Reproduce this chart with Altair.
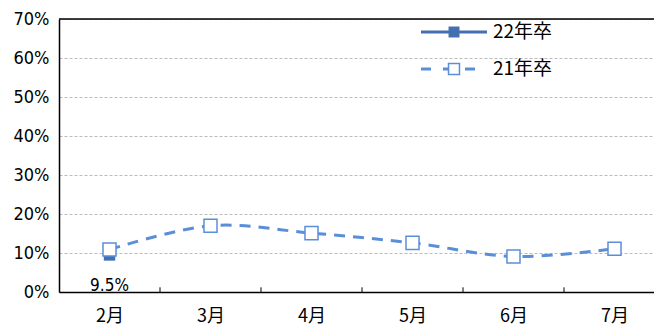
import altair as alt
import pandas as pd

months = ["2月", "3月", "4月", "5月", "6月", "7月"]
s21 = [10.9, 17.0, 15.1, 12.6, 9.1, 11.1]
s22 = [9.5]
name21 = "21年卒"
name22 = "22年卒"
y_ticks = [0, 10, 20, 30, 40, 50, 60, 70]

FONT = "Noto Sans CJK JP"
NUMFONT = "Liberation Sans Narrow, DejaVu Sans Condensed, Noto Sans CJK JP"
C21 = "#5B8ED8"
C22 = "#4470B0"

W = 595          # visible plot width (reference plot runs past the window edge)
BAND = 101       # px per month
x_max = -0.5 + W / BAND

df21 = pd.DataFrame({"i": list(range(len(s21))), "m": months[:len(s21)], "v": s21})
df22 = pd.DataFrame({"i": list(range(len(s22))), "m": months[:len(s22)], "v": s22,
                     "lab": [f"{v}%" for v in s22]})
bounds = pd.DataFrame({"i": [k + 0.5 for k in range(len(months) - 1)], "v": 0, "v2": 1.2})
top = pd.DataFrame({"i": [-0.5], "i2": [x_max], "v": [70]})

label_expr = "[" + ",".join(f"'{m}'" for m in months) + "][datum.value]"

xs = alt.Scale(domain=[-0.5, x_max], nice=False, zero=False)
ys = alt.Scale(domain=[0, 70], nice=False)

x_axis = alt.Axis(values=list(range(len(months))), labelExpr=label_expr, title=None,
                  tickSize=0, grid=False, labelPadding=15, labelFont=FONT, labelFontSize=18,
                  labelColor="black", domainColor="black", domainWidth=1.5)
y_axis = alt.Axis(values=y_ticks, labelExpr="datum.value + '%'", title=None,
                  tickSize=0, grid=True, labelPadding=10, labelOverlap=False,
                  labelFont=NUMFONT, labelFontSize=18, labelColor="black",
                  domainColor="black", domainWidth=1.5,
                  gridColor="#BBBBBB", gridDash=[3, 2], gridWidth=1)

X = alt.X("i:Q", scale=xs, axis=x_axis)
Y = alt.Y("v:Q", scale=ys, axis=y_axis)

ticks = alt.Chart(bounds).mark_rule(color="black", strokeWidth=1).encode(x=X, y=Y, y2="v2:Q")
top_rule = alt.Chart(top).mark_rule(color="black", strokeWidth=1.5).encode(x=X, x2="i2:Q", y=Y)

line22 = alt.Chart(df22).mark_line(color=C22, strokeWidth=3).encode(x=X, y=Y)
pt22 = alt.Chart(df22).mark_point(shape="square", filled=True, color=C22, size=130, opacity=1).encode(
    x=X, y=Y)
lab22 = alt.Chart(df22).mark_text(font=NUMFONT, fontSize=17, dy=31, color="black").encode(
    x=X, y=Y, text="lab:N")

line21 = alt.Chart(df21).mark_line(color=C21, strokeWidth=3, strokeDash=[11, 8],
                                   interpolate="cardinal").encode(x=X, y=Y)
pt21 = alt.Chart(df21).mark_point(shape="square", filled=True, fill="white", stroke=C21,
                                  strokeWidth=1.5, size=170, opacity=1).encode(x=X, y=Y)

# legend
leg = pd.DataFrame({"name": [name22, name21]})
lg1_line = alt.Chart(leg.iloc[[0]]).mark_rule(color=C22, strokeWidth=3).encode(
    x=alt.value(362), x2=alt.value(428), y=alt.value(13))
lg1_pt = alt.Chart(leg.iloc[[0]]).mark_point(shape="square", filled=True, color=C22, size=120,
                                             opacity=1).encode(x=alt.value(395), y=alt.value(13))
lg1_txt = alt.Chart(leg.iloc[[0]]).mark_text(font=FONT, fontSize=19, align="left", color="black").encode(
    x=alt.value(434), y=alt.value(13), text="name:N")
lg2_line = alt.Chart(leg.iloc[[1]]).mark_rule(color=C21, strokeWidth=3, strokeDash=[10, 12]).encode(
    x=alt.value(362), x2=alt.value(428), y=alt.value(50))
lg2_pt = alt.Chart(leg.iloc[[1]]).mark_point(shape="square", filled=True, fill="white", stroke=C21,
                                             strokeWidth=1.5, size=120, opacity=1).encode(
    x=alt.value(395), y=alt.value(50))
lg2_txt = alt.Chart(leg.iloc[[1]]).mark_text(font=FONT, fontSize=19, align="left", color="black").encode(
    x=alt.value(434), y=alt.value(50), text="name:N")

chart = alt.layer(top_rule, ticks, line22, line21, pt22, pt21, lab22,
                  lg1_line, lg1_pt, lg1_txt, lg2_line, lg2_pt, lg2_txt).properties(
    width=W, height=273,
    autosize=alt.AutoSizeParams(type="none"),
    padding={"left": 51, "top": 11, "right": 0, "bottom": 36},
).configure_view(stroke=None).configure(background="white")

chart.save("out.html", embed_options={"renderer": "svg", "actions": False})
